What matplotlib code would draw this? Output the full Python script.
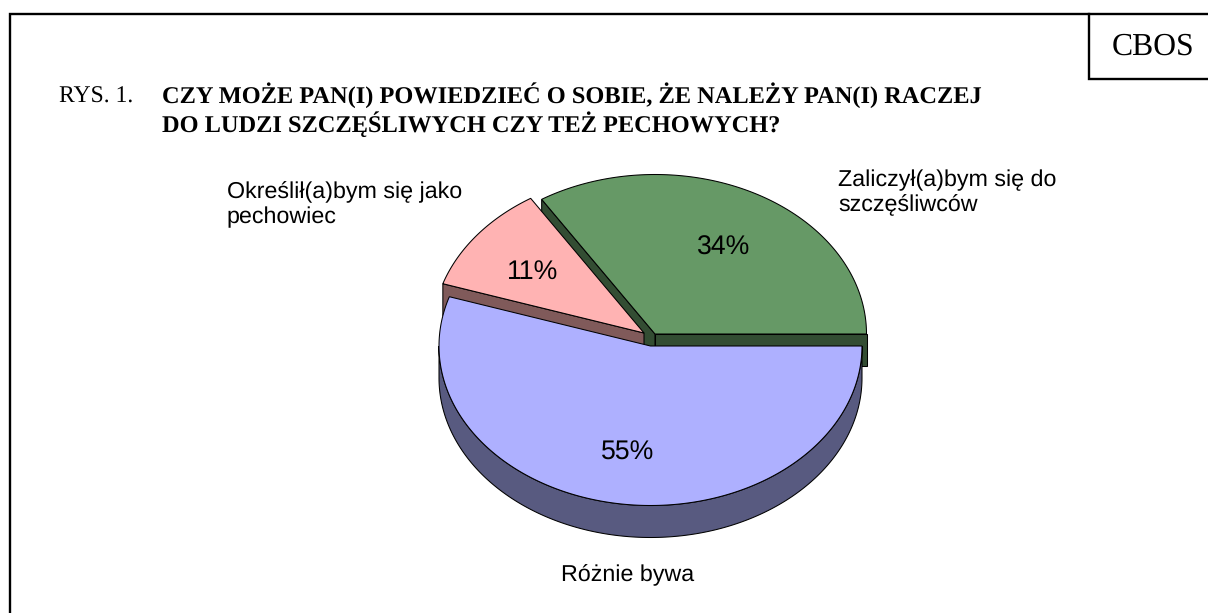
import numpy as np
import matplotlib
matplotlib.use("Agg")
import matplotlib.pyplot as plt
from matplotlib.patches import Polygon

plt.rcParams["text.hinting"] = "no_hinting"

# chart values
labels = ["Zaliczył(a)bym się do\nszczęśliwców", "Określił(a)bym się jako\npechowiec", "Różnie bywa"]
shares = [34, 11, 55]

title_prefix = "RYS. 1."
title_lines = ["CZY MOŻE PAN(I) POWIEDZIEĆ O SOBIE, ŻE NALEŻY PAN(I) RACZEJ",
               "DO LUDZI SZCZĘŚLIWYCH CZY TEŻ PECHOWYCH?"]
source = "CBOS"

# look of the slices
top_colors = ["#669966", "#FFB3B3", "#AEB0FF"]
side_colors = ["#334D33", "#805A5A", "#585A80"]
centers = [(655, 334), (644, 333), (650.5, 346)]
label_pos = [(838, 211), (227, 223), (628, 581)]
pct_pos = [(724, 255), (533, 279), (628, 460)]
rx, ry, depth = 211.5, 159.5, 32

fig = plt.figure(figsize=(12.08, 6.13), dpi=100)
ax = fig.add_axes([0, 0, 1, 1])
ax.set_xlim(0, 1208)
ax.set_ylim(613, 0)
ax.axis("off")


def arc(center, a1, a2):
    t = np.radians(np.linspace(a1, a2, 200))
    return np.column_stack([center[0] + rx * np.cos(t), center[1] - ry * np.sin(t)])


def patch(points, color, z):
    ax.add_patch(Polygon(points, closed=True, facecolor=color, edgecolor="black", lw=0.75, zorder=z))


def radial_wall(center, angle, color, z):
    end = arc(center, angle, angle)[0]
    cx, cy = center
    patch([(cx, cy), end, (end[0], end[1] + depth), (cx, cy + depth)], color, z)


# slice limits come from the shares
edges = np.cumsum([0] + shares) * 3.6

# green: walls go first, the pink slice sits over them
radial_wall(centers[0], edges[0], side_colors[0], 1)
radial_wall(centers[0], edges[1], side_colors[0], 1)
patch(np.vstack([[centers[0]], arc(centers[0], edges[0], edges[1])]), top_colors[0], 4)

# pink
radial_wall(centers[1], edges[2], side_colors[1], 2)
patch(np.vstack([[centers[1]], arc(centers[1], edges[1], edges[2])]), top_colors[1], 3)

# blue: only the lower rim is seen
rim = arc(centers[2], 180, 360)
patch(np.vstack([rim, rim[::-1] + [0, depth]]), side_colors[2], 5)
patch(np.vstack([[centers[2]], arc(centers[2], edges[2], edges[3])]), top_colors[2], 6)

sans = "Liberation Sans"
serif = "Liberation Serif"

for lab, pos in zip(labels, label_pos):
    ha = "center" if "\n" not in lab else "left"
    ax.text(pos[0], pos[1], lab, ha=ha, va="baseline", family=sans, fontsize=16.75, linespacing=1.2, zorder=8)
for val, pos in zip(shares, pct_pos):
    ax.text(pos[0], pos[1], f"{val}%", ha="center", va="baseline", family=sans, fontsize=19.2, zorder=8)

ax.text(59, 103, title_prefix, va="baseline", family=serif, fontsize=17, zorder=8)
ax.text(162, 103, title_lines[0], va="baseline", family=serif, weight="bold", fontsize=17.52, zorder=8)
ax.text(162, 132, title_lines[1], va="baseline", family=serif, weight="bold", fontsize=17.52, zorder=8)
ax.text(1153, 55, source, ha="center", va="baseline", family=serif, fontsize=22.8, zorder=8)

# outer frame and source box
ax.plot([10, 10, 1208], [613, 14, 14], color="black", lw=1.7, solid_joinstyle="miter", zorder=9)
ax.plot([1089, 1089, 1208], [14, 79, 79], color="black", lw=1.7, solid_joinstyle="miter", zorder=9)

fig.savefig("out.png", dpi=100)
